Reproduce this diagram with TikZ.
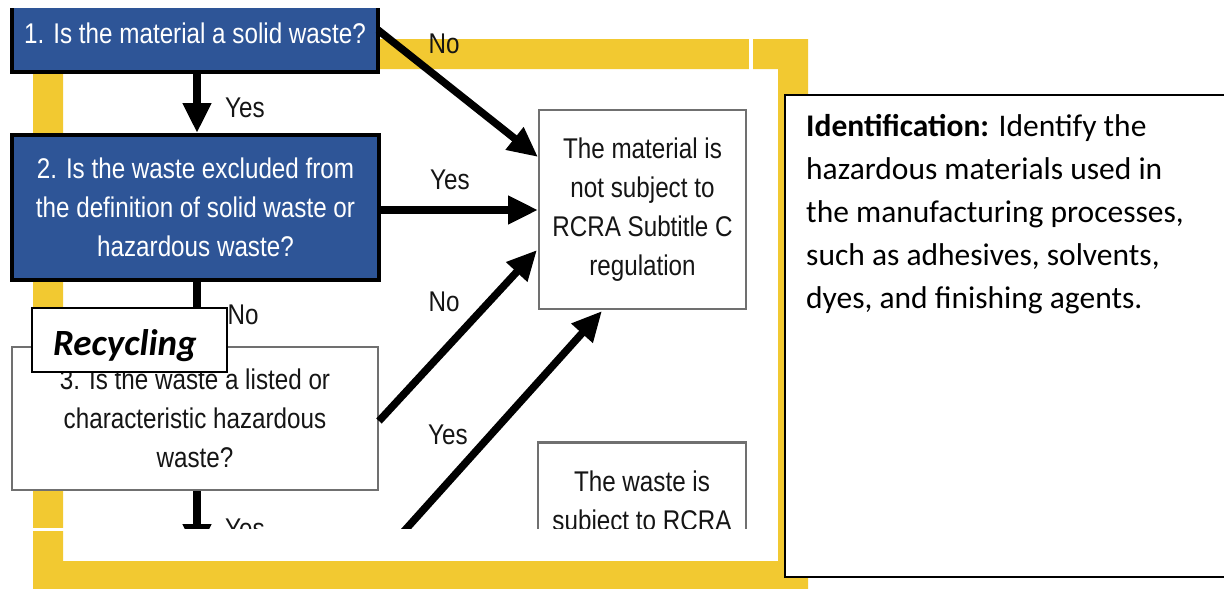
\documentclass[tikz,border=0pt]{standalone}
\usepackage{fontspec}
\usetikzlibrary{arrows.meta}
\newfontfamily\flowfont[FakeStretch=0.85]{Liberation Sans}
\newfontfamily\calfont{Carlito}
\definecolor{boxblue}{HTML}{2E5597}
\definecolor{frameyellow}{HTML}{F2C931}
\definecolor{boxgray}{HTML}{707070}
\definecolor{txtdark}{HTML}{151515}
\tikzset{
  flowtext/.style={font=\flowfont\fontsize{28.5}{39}\selectfont, align=center, inner sep=0pt},
  bluebox/.style={flowtext, draw=black, line width=4pt, fill=boxblue, text=white},
  whitebox/.style={flowtext, draw=boxgray, line width=2.6pt, fill=white, text=txtdark},
  lbl/.style={font=\flowfont\fontsize{28.5}{34}\selectfont, text=txtdark, inner sep=0pt},
  flowarrow/.style={line width=7.5pt, draw=black, -{Triangle[length=30pt,width=27pt]}},
  flowline/.style={line width=7.5pt, draw=black},
}
\begin{document}
\begin{tikzpicture}[x=1pt,y=-1pt]
\useasboundingbox (0,0) rectangle (1224,589);
\fill[white] (0,0) rectangle (1224,589);
% yellow frame
\fill[frameyellow, even odd rule] (33,39) rectangle (808,589) (63,69) rectangle (778,561);
\fill[white] (749,38) rectangle (753,70);
\fill[white] (32,528) rectangle (64,530.5);
% flowchart (cropped picture)
\begin{scope}
\clip (10,8) rectangle (751,528);
\node[bluebox, minimum width=366pt, minimum height=78pt] (b1) at (195,33) {1. Is the material a solid waste?};
\node[bluebox, minimum width=367pt, minimum height=145pt] (b2) at (195.5,207.5) {2. Is the waste excluded from\\the definition of solid waste or\\hazardous waste?};
\node[whitebox, minimum width=366pt, minimum height=143pt] (b3) at (195,418.5) {3. Is the waste a listed or\\characteristic hazardous\\waste?};
\node[whitebox, minimum width=207pt, minimum height=199pt] (ns) at (642.5,209.5) {The material is\\not subject to\\RCRA Subtitle C\\regulation};
\node[whitebox, anchor=north, minimum width=208pt, minimum height=160pt] (ws) at (642,441) {};
\node[flowtext, text=txtdark, anchor=north] (wstext) at (642,471) {The waste is\\subject to RCRA};
% connectors
\coordinate (b1e) at (378,30);
\coordinate (nsa) at (538,157);
\coordinate (nsb) at (538,210);
\coordinate (nsc) at (537,250);
\coordinate (nsd) at (602,311);
\coordinate (b3e) at (379,421);
\coordinate (lowstart) at (362,578);
\coordinate (b3down) at (197,554);
\draw[flowarrow] (b1e) -- (nsa);
\draw[flowarrow] (b2.east |- nsb) -- (nsb);
\draw[flowarrow] (b3e) -- (nsc);
\draw[flowarrow] (lowstart) -- (nsd);
\draw[flowarrow] (b1.south -| 197,0) -- (b2.north -| 197,0);
\draw[flowline] (b2.south -| 197,0) -- (b3.north -| 197,0);
\draw[flowarrow] (b3.south -| 197,0) -- (b3down);
% labels
\node[lbl] (l1) at (444,44) {No};
\node[lbl] (l2) at (450,180) {Yes};
\node[lbl] (l3) at (444,302) {No};
\node[lbl] (l4) at (448,435) {Yes};
\node[lbl] (l5) at (245,108) {Yes};
\node[lbl] (l6) at (243,315) {No};
\node[lbl] (l7) at (245,529) {Yes};
\end{scope}
% Recycling label box
\node[draw=black, line width=2.2pt, fill=white, minimum width=195pt, minimum height=64pt, inner sep=0pt] (rbox) at (129.5,340) {};
\node[font=\calfont\bfseries\itshape\fontsize{37}{44}\selectfont, anchor=base west, inner sep=0pt] (rtext) at (53,355) {Recycling};
% Identification text box
\node[draw=black, line width=2pt, fill=white, minimum width=460pt, minimum height=482pt, inner sep=0pt] (idbox) at (1015,336) {};
\node[font=\calfont\fontsize{31.5}{43}\selectfont, align=left, anchor=north west, inner sep=0pt] (idtext) at (806,114) {\textbf{Identification:} Identify the\\hazardous materials used in\\the manufacturing processes,\\such as adhesives, solvents,\\dyes, and finishing agents.};
\end{tikzpicture}
\end{document}
